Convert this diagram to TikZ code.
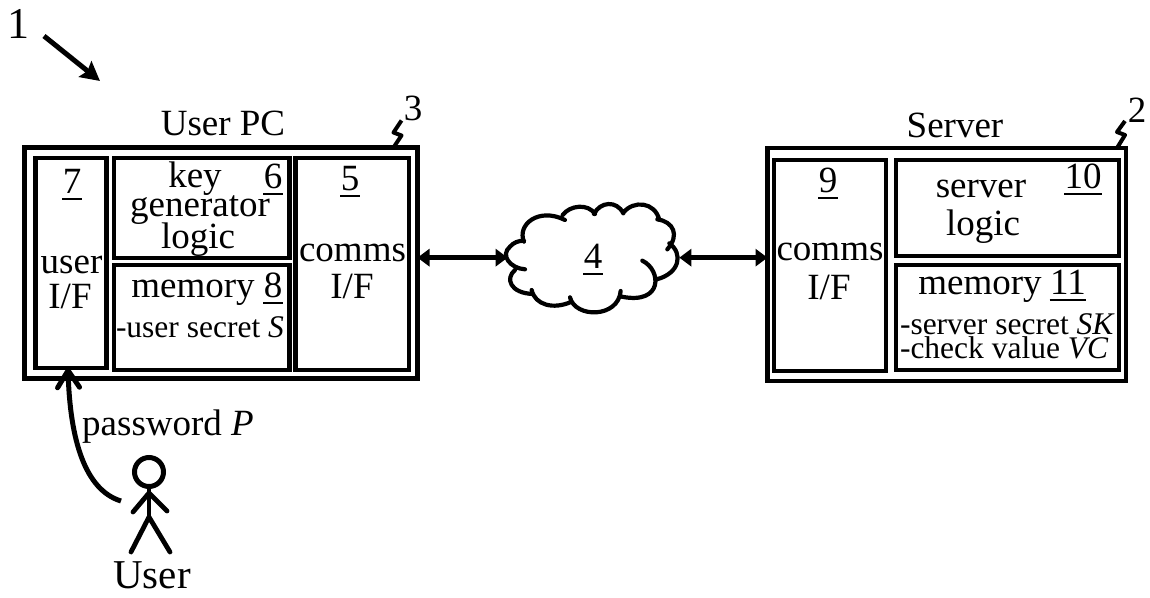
\documentclass[tikz,border=0pt]{standalone}
\usepackage{fontspec}
\setmainfont{Liberation Serif}
\usetikzlibrary{arrows.meta}
\newcommand\ulx[1]{\leavevmode\setbox0=\hbox{#1}\rlap{\raise-6.5pt\hbox{\kern-0.5pt\vrule width\dimexpr\wd0+1pt\relax height 1.6pt depth 0pt}}\box0 }
\newcommand\fs[1]{\fontsize{#1}{#1}\selectfont}
\tikzset{
  x=1pt,y=-1pt,
  frame/.style={draw=black,line width=4.4pt,rectangle,anchor=north west,inner sep=0pt,outer sep=0pt},
  lab/.style={anchor=base,inner sep=0pt,outer sep=0pt,font=\fs{37}},
  small/.style={anchor=base west,inner sep=0pt,outer sep=0pt,font=\fs{31.5}},
  link/.style={line width=5.6pt,{Triangle[length=12pt,width=17pt]}-{Triangle[length=12pt,width=17pt]}},
  thick line/.style={line width=4.8pt,line cap=round,line join=round},
  cloudline/.style={line width=4.2pt,line cap=round},
  squiggle/.style={line width=4pt,line join=round}
}
\begin{document}
\begin{tikzpicture}
\useasboundingbox (0,0) rectangle (1150,597);
% User PC
\node[frame,minimum width=393pt,minimum height=231pt] (pc) at (24.5,147.5) {};
\node[frame,minimum width=71pt,minimum height=210pt] (uif) at (35.5,158) {};
\node[frame,minimum width=175.5pt,minimum height=100pt] (keygen) at (114,158) {};
\node[frame,minimum width=175.5pt,minimum height=105pt] (mem) at (114,265) {};
\node[frame,minimum width=113.5pt,minimum height=212pt] (commsa) at (295.5,158) {};
% Server
\node[frame,minimum width=358.5pt,minimum height=233pt] (srv) at (767.5,148) {};
\node[frame,minimum width=112pt,minimum height=211pt] (commsb) at (774,160) {};
\node[frame,minimum width=223pt,minimum height=96pt] (logic) at (896,160) {};
\node[frame,minimum width=223pt,minimum height=105pt] (memb) at (896,265) {};
% titles
\node[lab] (t1) at (223,135) {User PC};
\node[lab] (t2) at (955,137) {Server};
\node[lab,font=\fs{44}] (n1) at (18,38) {1};
\node[lab] (n3) at (413,120) {3};
\node[lab] (n2) at (1137,122) {2};
% PC text
\node[lab] (n7) at (72,193) {\ulx{7}};
\node[lab] (tu) at (71.5,273) {user};
\node[lab] (tif) at (70,308) {I/F};
\node[lab] (tk) at (195,187) {key};
\node[lab] (tg) at (200,216) {generator};
\node[lab] (tl) at (198,248) {logic};
\node[lab] (n6) at (273,188) {\ulx{6}};
\node[lab] (tm) at (193,297) {memory};
\node[lab] (n8) at (273,297) {\ulx{8}};
\node[small] (ts) at (116,337) {-user secret \textit{S}};
\node[lab] (n5) at (350,190) {\ulx{5}};
\node[lab] (tc) at (352.5,261) {comms};
\node[lab] (tif2) at (352,298) {I/F};
% Server text
\node[lab] (n9) at (828,192) {\ulx{9}};
\node[lab] (tc2) at (830,260) {comms};
\node[lab] (tif3) at (829,299) {I/F};
\node[lab] (tsv) at (981,197) {server};
\node[lab] (tl2) at (983,235) {logic};
\node[lab] (n10) at (1083,188) {\ulx{10}};
\node[lab] (tm2) at (980,294) {memory};
\node[lab] (n11) at (1068,294) {\ulx{11}};
\node[small] (tsk) at (900,334) {-server secret \textit{SK}};
\node[small] (tvc) at (900,358) {-check value \textit{VC}};
% lower labels
\node[lab] (tp) at (168,435) {password \textit{P}};
\node[lab,font=\fs{41}] (tuser) at (152,588) {User};
% cloud
\begin{scope}[x=0.33333pt,y=-0.33333pt,shift={(1230,570)}]
\draw[cloudline]
  (345,238) .. controls (300,235) and (270,195) .. (300,170) .. controls (310,158) and (325,152) .. (342,152)
  (342,155) .. controls (320,105) and (385,50) .. (465,90)
  (458,75) .. controls (480,45) and (535,40) .. (555,72)
  (552,72) .. controls (570,35) and (620,30) .. (640,70)
  (640,68) .. controls (670,30) and (735,35) .. (748,90)
  (742,88) .. controls (790,95) and (810,135) .. (772,178)
  (778,160) .. controls (820,190) and (810,250) .. (740,268)
  (697,212) .. controls (755,240) and (760,345) .. (635,320)
  (632,303) .. controls (625,385) and (495,385) .. (480,322)
  (485,335) .. controls (430,360) and (375,345) .. (365,300)
  (370,312) .. controls (300,310) and (285,265) .. (315,240);
\coordinate (cw) at (293,203);
\coordinate (ce) at (808,203);
\end{scope}
\node[lab] (lab4) at (593,268) {\ulx{4}};
% links
\draw[link] (pc.east |- cw) -- (cw);
\draw[link] (ce) -- (srv.west |- ce);
% overview arrow
\coordinate (a1) at (44,36);
\coordinate (a2) at (100,81);
\draw[line width=5pt,-{Stealth[length=19pt,width=20pt,inset=3pt]}] (a1) -- (a2);
% squiggles
\draw[squiggle] (pc.north east) ++(-24,0) -- ++(8,-12) -- ++(-8,-3) -- ++(8,-12);
\draw[squiggle] (srv.north east) ++(-9,0) -- ++(8,-13) -- ++(-8,-3) -- ++(8,-11);
% stick figure
\node[circle,draw,line width=5pt,minimum size=29pt,inner sep=0pt,outer sep=0pt] (head) at (149,472) {};
\coordinate (hip) at (149,517);
\coordinate (sh) at (149,493);
\draw[thick line] (head.south) -- (hip);
\draw[thick line] (133,512) -- (sh) -- (167,511);
\draw[thick line] (131,552) -- (hip) -- (170,552);
% password arrow
\coordinate (ptail) at (121,501);
\coordinate (ptip) at (uif.south -| 68,0);
\draw[line width=5pt,-{Straight Barb[length=17pt,width=22pt,round]}]
  (ptail) .. controls (85,490) and (70,440) .. (ptip);
\end{tikzpicture}
\end{document}
